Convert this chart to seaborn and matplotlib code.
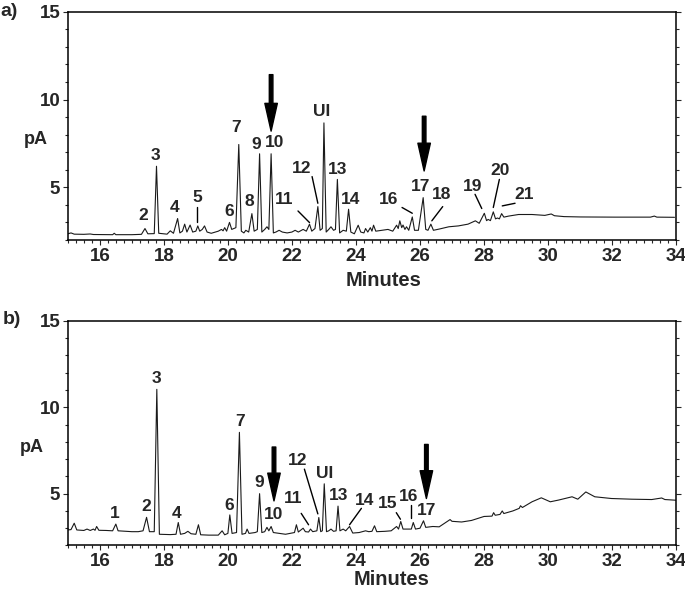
import seaborn as sns
import matplotlib
matplotlib.use('Agg')
import matplotlib.pyplot as plt
from matplotlib.ticker import MultipleLocator

# --- chromatogram a) : retention time (min) and signal (pA)
trace_a_min = [15.0, 15.1, 15.2, 15.5, 15.7, 15.8, 16.4, 16.45, 16.5, 17.0, 17.3, 17.41, 17.5, 17.7,
               17.77, 17.84, 18.1, 18.2, 18.3, 18.43, 18.5, 18.58, 18.65, 18.72, 18.82, 18.9, 19.0,
               19.06, 19.12, 19.2, 19.27, 19.35, 19.48, 19.7, 19.8, 19.85, 19.9, 19.96, 20.05, 20.12,
               20.25, 20.34, 20.42, 20.5, 20.56, 20.65, 20.75, 20.82, 20.92, 20.99, 21.06, 21.15,
               21.22, 21.28, 21.35, 21.42, 21.5, 21.6, 21.7, 21.85, 22.0, 22.1, 22.2, 22.35, 22.45,
               22.55, 22.62, 22.72, 22.81, 22.88, 22.95, 23.0, 23.07, 23.15, 23.22, 23.3, 23.36,
               23.42, 23.49, 23.6, 23.7, 23.77, 23.84, 23.95, 24.07, 24.15, 24.25, 24.3, 24.37,
               24.45, 24.5, 24.55, 24.62, 24.8, 25.0, 25.15, 25.27, 25.32, 25.37, 25.43, 25.47,
               25.53, 25.58, 25.65, 25.76, 25.83, 25.95, 26.1, 26.18, 26.25, 26.34, 26.42, 26.6,
               26.9, 27.2, 27.5, 27.73, 27.85, 28.01, 28.08, 28.13, 28.2, 28.29, 28.36, 28.42,
               28.48, 28.55, 28.62, 28.77, 29.08, 29.5, 29.9, 30.1, 30.2, 30.5, 31.02, 32.07,
               33.2, 33.32, 33.4, 33.95]
trace_a_pA = [2.35, 2.4, 2.33, 2.32, 2.34, 2.31, 2.3, 2.38, 2.3, 2.3, 2.32, 2.65, 2.35, 2.36,
              6.2, 2.38, 2.33, 2.52, 2.38, 3.22, 2.4, 2.5, 2.9, 2.45, 2.85, 2.45, 2.5,
              2.8, 2.5, 2.6, 2.8, 2.45, 2.38, 2.5, 2.6, 2.52, 2.7, 2.5, 3.0, 2.6,
              2.7, 7.44, 2.5, 2.4, 2.55, 2.45, 3.5, 2.5, 2.6, 6.91, 2.45, 2.6,
              2.75, 2.6, 6.91, 2.4, 2.45, 2.55, 2.45, 2.4, 2.45, 2.55, 2.45, 2.6, 2.5,
              2.9, 2.5, 2.65, 3.9, 2.55, 2.65, 8.67, 2.45, 2.6, 2.75, 2.55, 2.6,
              5.45, 2.4, 2.55, 2.5, 3.75, 2.45, 2.35, 2.84, 2.45, 2.4, 2.65, 2.45,
              2.7, 2.5, 2.84, 2.5, 2.55, 2.6, 2.5, 2.84, 2.65, 3.09, 2.7, 2.85,
              2.6, 2.75, 2.55, 3.31, 2.55, 2.55, 4.41, 2.6, 2.55, 2.9, 2.55, 2.62,
              2.75, 2.8, 2.9, 3.09, 2.95, 3.52, 3.1, 3.17, 3.1, 3.6, 3.2, 3.25,
              3.2, 3.5, 3.3, 3.36, 3.45, 3.45, 3.4, 3.48, 3.38, 3.33, 3.31, 3.3,
              3.3, 3.36, 3.3, 3.29]

# --- chromatogram b)
trace_b_min = [15.0, 15.1, 15.2, 15.28, 15.5, 15.6, 15.7, 15.8, 15.85, 15.9, 15.97, 16.2, 16.4,
               16.5, 16.57, 16.8, 17.0, 17.2, 17.35, 17.46, 17.55, 17.7, 17.78, 17.86, 18.2, 18.38,
               18.45, 18.52, 18.65, 18.75, 18.85, 19.0, 19.08, 19.15, 19.4, 19.7, 19.82, 19.9,
               20.0, 20.06, 20.13, 20.27, 20.36, 20.44, 20.55, 20.6, 20.66, 20.85, 20.92, 20.99,
               21.06, 21.15, 21.22, 21.28, 21.35, 21.42, 21.6, 21.8, 22.0, 22.08, 22.14, 22.2,
               22.35, 22.42, 22.52, 22.58, 22.65, 22.78, 22.84, 22.9, 22.95, 23.01, 23.08, 23.15,
               23.22, 23.3, 23.38, 23.44, 23.5, 23.6, 23.68, 23.8, 23.9, 24.1, 24.3, 24.4, 24.5,
               24.58, 24.65, 24.9, 25.1, 25.27, 25.33, 25.4, 25.47, 25.6, 25.73, 25.79, 25.86,
               26.0, 26.11, 26.18, 26.4, 26.6, 26.94, 27.0, 27.3, 27.61, 28.0, 28.25, 28.3,
               28.35, 28.5, 28.57, 28.62, 28.9, 29.1, 29.14, 29.2, 29.5, 29.79, 30.07, 30.33,
               30.75, 30.93, 31.18, 31.46, 31.98, 32.61, 33.24, 33.55, 33.65, 34.0]
trace_b_pA = [2.9, 2.92, 3.29, 2.9, 2.87, 2.95, 2.87, 2.95, 2.88, 3.1, 2.88, 2.87, 2.85,
              3.24, 2.85, 2.82, 2.8, 2.8, 2.85, 3.63, 2.8, 2.8, 11.04, 2.65, 2.63, 2.65,
              3.33, 2.65, 2.7, 2.82, 2.68, 2.65, 3.2, 2.62, 2.6, 2.6, 2.85, 2.62,
              2.7, 3.77, 2.7, 2.75, 8.55, 2.65, 2.7, 2.95, 2.7, 2.75, 2.8, 5.0,
              2.75, 2.8, 3.05, 2.85, 3.1, 2.75, 2.7, 2.65, 2.72, 2.75, 3.2, 2.78,
              3.0, 2.8, 2.78, 2.95, 2.8, 2.85, 3.62, 2.8, 2.85, 5.57, 2.8, 2.85,
              2.95, 2.82, 2.85, 4.28, 2.85, 2.95, 2.85, 3.1, 2.72, 2.75, 2.85, 2.8, 2.82,
              3.14, 2.8, 2.82, 2.85, 3.1, 2.95, 3.39, 2.95, 2.95, 2.95, 3.33, 2.95,
              3.0, 3.43, 3.05, 3.1, 3.08, 3.5, 3.4, 3.36, 3.45, 3.68, 3.7, 3.9,
              3.75, 3.8, 4.0, 3.85, 4.0, 4.15, 4.3, 4.2, 4.53, 4.76, 4.53, 4.63,
              4.82, 4.68, 5.1, 4.82, 4.72, 4.68, 4.66, 4.75, 4.66, 4.62]

# peak labels
labels_a = ['2', '3', '4', '5', '6', '7', '8', '9', '10', '11', '12', 'UI', '13', '14',
            '16', '17', '18', '19', '20', '21']
labels_b = ['1', '2', '3', '4', '6', '7', '9', '10', '11', '12', 'UI', '13', '14', '15', '16', '17']

# arrows mark the two compounds of interest (min)
arrows_a = [21.35, 26.13]
arrows_b = [21.44, 26.2]

# ---- layout (label positions, leader lines, arrow extents)
pos_a = [(17.37, 3.37), (17.73, 6.82), (18.33, 3.85), (19.04, 4.41), (20.03, 3.62), (20.24, 8.43),
         (20.68, 4.17), (20.88, 7.44), (21.46, 7.53), (21.77, 4.32), (22.31, 6.08), (22.94, 9.3),
         (23.44, 6.02), (23.82, 4.28), (25.03, 4.28), (26.03, 5.07), (26.68, 4.6), (27.64, 5.07),
         (28.5, 5.97), (29.25, 4.6)]
pos_b = [(16.47, 3.86), (17.46, 4.24), (17.78, 11.65), (18.41, 3.86), (20.03, 4.3), (20.38, 9.18),
         (20.99, 5.67), (21.44, 3.77), (22.05, 4.72), (22.19, 6.94), (23.01, 6.14), (23.47, 4.9),
         (24.27, 4.58), (24.99, 4.43), (25.63, 4.85), (26.2, 4.0)]
leaders_a = [((19.04, 3.85), (19.04, 3.05)), ((22.19, 3.65), (22.55, 2.99)),
             ((22.63, 5.61), (22.81, 4.09)), ((25.44, 3.85), (25.76, 3.52)),
             ((26.71, 3.9), (26.37, 3.09)), ((27.72, 4.6), (27.93, 3.79)),
             ((28.48, 5.45), (28.29, 3.85)), ((28.97, 4.09), (28.57, 3.94))]
leaders_b = [((22.29, 3.86), (22.52, 3.2)), ((22.39, 6.42), (22.81, 3.83)),
             ((24.17, 4.15), (23.8, 3.2)), ((25.26, 3.9), (25.39, 3.52)),
             ((25.73, 4.34), (25.73, 3.58))]
arrow_ext_a = [(11.42, 8.2), (9.05, 5.93)]
arrow_ext_b = [(7.7, 4.58), (7.85, 4.72)]

sns.set_style('ticks')
plt.rcParams['font.family'] = ['Liberation Sans', 'DejaVu Sans']
plt.rcParams['font.weight'] = 'bold'

fig = plt.figure(figsize=(6.85, 5.91), dpi=100)
ax_a = fig.add_axes([0.099, 0.594, 0.888, 0.386])
ax_b = fig.add_axes([0.099, 0.077, 0.888, 0.38])

panels = [
    (ax_a, trace_a_min, trace_a_pA, labels_a, pos_a, leaders_a, arrows_a, arrow_ext_a),
    (ax_b, trace_b_min, trace_b_pA, labels_b, pos_b, leaders_b, arrows_b, arrow_ext_b),
]

for ax, tx, ty, labs, pos, leads, arr, ext in panels:
    sns.lineplot(x=tx, y=ty, ax=ax, color='#1a1a1a', lw=0.8, estimator=None, sort=False)
    for s, (x, y) in zip(labs, pos):
        ax.text(x, y, s, ha='center', va='center', fontsize=12.5, fontweight='bold')
    for (x0, y0), (x1, y1) in leads:
        ax.plot([x0, x1], [y0, y1], color='black', lw=1)
    for x, (top, tip) in zip(arr, ext):
        ax.annotate('', xy=(x, tip), xytext=(x, top),
                    arrowprops=dict(facecolor='black', edgecolor='black', width=2.6,
                                    headwidth=9, headlength=20, shrink=0))
    ax.set_xlim(15, 34)
    ax.set_ylim(2, 15)
    ax.xaxis.set_minor_locator(MultipleLocator(0.25))
    ax.yaxis.set_minor_locator(MultipleLocator(1))
    ax.set_xticks(range(16, 35, 2))
    ax.set_yticks([5, 10, 15])
    ax.tick_params(which='both', direction='out', right=True, top=False, width=0.8,
                   labelsize=13.5, pad=2)
    ax.tick_params(which='major', length=3.5)
    ax.tick_params(which='minor', length=2.5)
    for lab in ax.get_xticklabels() + ax.get_yticklabels():
        lab.set_fontweight('bold')
    for sp in ax.spines.values():
        sp.set_visible(True)
        sp.set_linewidth(1.1)
        sp.set_color('black')
    ax.set_xlabel('')
    ax.set_ylabel('')

# axis titles placed as in the original figure
fig.text(384 / 685, 1 - 281 / 591, 'Minutes', ha='center', va='center', fontsize=14.5, fontweight='bold')
fig.text(392 / 685, 2 / 591, 'Minutes', ha='center', va='bottom', fontsize=14.5, fontweight='bold')
fig.text(36 / 685, 1 - 140 / 591, 'pA', ha='center', va='center', fontsize=13, fontweight='bold')
fig.text(32 / 685, 1 - 447 / 591, 'pA', ha='center', va='center', fontsize=13, fontweight='bold')
fig.text(0.0, 1 - 12 / 591, 'a)', ha='left', va='center', fontsize=14, fontweight='bold')
fig.text(3 / 685, 1 - 319 / 591, 'b)', ha='left', va='center', fontsize=14, fontweight='bold')

fig.savefig('out.png', dpi=100)
